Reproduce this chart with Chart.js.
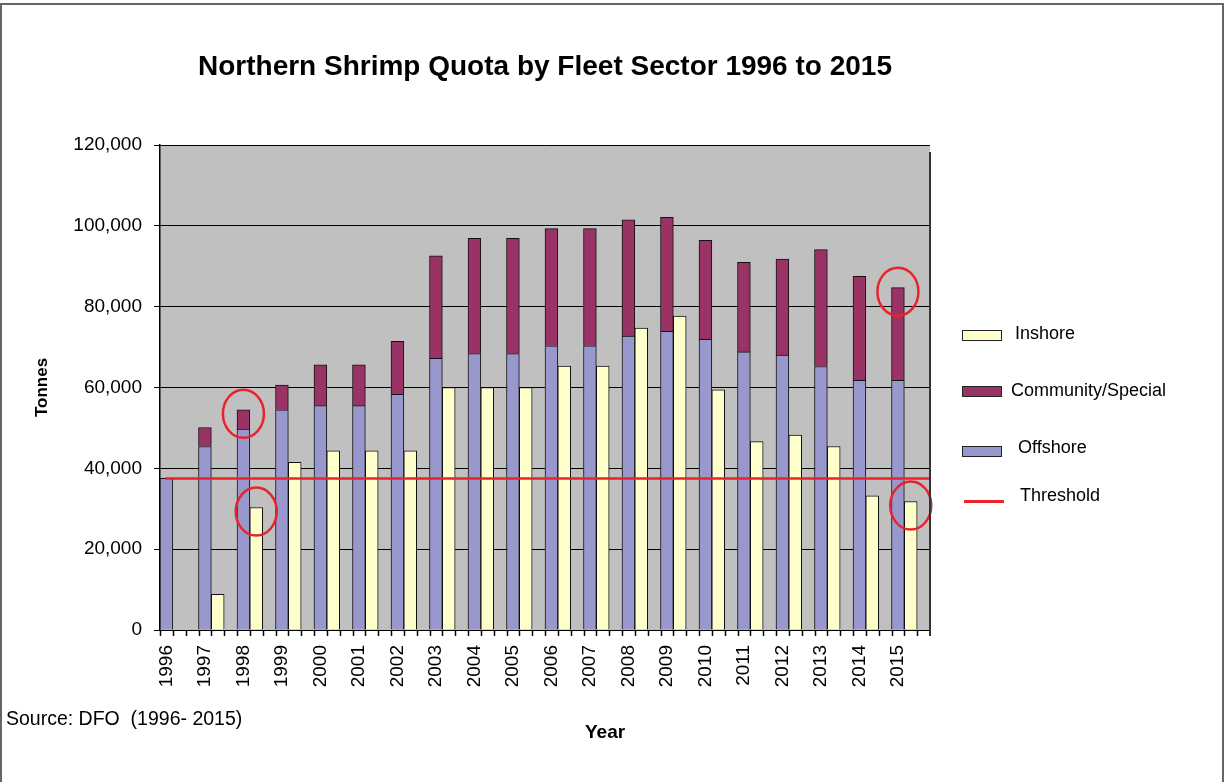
<!DOCTYPE html>
<html>
<head>
<meta charset="utf-8">
<script src="https://cdn.jsdelivr.net/npm/chart.js@4.4.1/dist/chart.umd.min.js"></script>
<style>
  body { margin: 0; background: #fff; font-family: "Liberation Sans", Arial, sans-serif; }
  #wrap { position: relative; width: 1225px; height: 782px; overflow: hidden; }
  #frame { position: absolute; left: 0; top: 3px; width: 1220px; height: 800px; border: 2px solid #666; border-bottom: none; }
  canvas { position: absolute; left: 0; top: 0; }
  .txt { position: absolute; line-height: 1; white-space: pre; color: #000; }
  #title { left: 0; width: 1090px; text-align: center; top: 52px; font-size: 28px; font-weight: bold; }
  #source { left: 6px; top: 709px; font-size: 19.5px; }
  #xtitle { left: 585px; top: 722px; font-size: 19px; font-weight: bold; }
  .box { position: absolute; left: 962px; width: 38px; height: 9px; border: 1px solid #222; }
  .lg { font-size: 18px; }
</style>
</head>
<body>
<div id="wrap">
  <div id="frame"></div>
  <canvas id="quotaChart" width="1225" height="782"></canvas>
  <div id="title" class="txt">Northern Shrimp Quota by Fleet Sector 1996 to 2015</div>
  <div id="source" class="txt">Source: DFO  (1996- 2015)</div>
  <div id="xtitle" class="txt">Year</div>

  <div class="box" style="top:330px;background:#FFFFCC"></div>
  <div class="txt lg" style="left:1015px;top:324px">Inshore</div>
  <div class="box" style="top:386px;background:#993366"></div>
  <div class="txt lg" style="left:1011px;top:381px">Community/Special</div>
  <div class="box" style="top:446px;background:#9898CC"></div>
  <div class="txt lg" style="left:1018px;top:438px">Offshore</div>
  <div style="position:absolute;left:964px;top:500px;width:40px;height:3px;background:#E8242A"></div>
  <div class="txt lg" style="left:1020px;top:486px">Threshold</div>
</div>

<script>
// valeurs (tonnes)
const years = ['1996', '1997', '1998', '1999', '2000', '2001', '2002', '2003', '2004', '2005',
               '2006', '2007', '2008', '2009', '2010', '2011', '2012', '2013', '2014', '2015'];
const offshore = [37500, 45400, 49700, 54500, 55500, 55500, 58300, 67200, 68400, 68400,
                  70300, 70300, 72700, 73900, 71900, 68800, 68000, 65200, 61800, 61800];
const community = [null, 4700, 4800, 6100, 10100, 10100, 13100, 25400, 28500, 28500,
                   29000, 29000, 28800, 28200, 24500, 22200, 23800, 28900, 25700, 22900];
const inshore = [null, 8800, 30300, 41500, 44300, 44300, 44300, 60000, 60000, 60000,
                 65300, 65300, 74700, 77700, 59400, 46600, 48200, 45400, 33200, 31800];
const thresholdValue = 37500;
const yTicks = [0, 20000, 40000, 60000, 80000, 100000, 120000];

// barres entourées en rouge (dataset, année)
const circled = [
    ['Community/Special', '1998'],
    ['Inshore', '1998'],
    ['Community/Special', '2015'],
    ['Inshore', '2015']
];

const spacer = years.map(() => null); // 3e emplacement vide de chaque année

// fond gris, ligne seuil, cercles, bord droit, petites graduations sous l'axe X
const plotDecor = {
    id: 'plotDecor',
    beforeDraw(chart) {
        const { ctx, chartArea: a } = chart;
        ctx.save();
        ctx.fillStyle = '#C0C0C0';
        ctx.fillRect(a.left, a.top, a.right - a.left, a.bottom - a.top);
        ctx.restore();
    },
    afterDatasetsDraw(chart) {
        const { ctx, chartArea: a } = chart;
        const ty = chart.scales.y.getPixelForValue(thresholdValue);
        ctx.save();
        ctx.strokeStyle = '#E8242A';
        ctx.lineWidth = 2.5;
        ctx.beginPath();
        ctx.moveTo(a.left + 5, ty);
        ctx.lineTo(a.right, ty);
        ctx.stroke();

        circled.forEach(([name, year]) => {
            const di = chart.data.datasets.findIndex(d => d.label === name);
            const bar = chart.getDatasetMeta(di).data[years.indexOf(year)];
            ctx.beginPath();
            ctx.ellipse(bar.x, bar.y + 4, 20.5, 24, 0, 0, Math.PI * 2);
            ctx.stroke();
        });
        ctx.restore();
    },
    afterDraw(chart) {
        const { ctx, chartArea: a } = chart;
        const x = chart.scales.x;
        const catW = (a.right - a.left) / years.length;
        ctx.save();
        ctx.strokeStyle = '#000';
        ctx.lineWidth = 1.5;
        for (let i = 0; i < years.length; i++) {
            const left = x.getPixelForValue(i) - catW / 2;
            for (let k = 0; k < 3; k++) {
                const px = Math.round(left + k * catW / 3) + 0.5;
                ctx.beginPath();
                ctx.moveTo(px, a.bottom);
                ctx.lineTo(px, a.bottom + 6);
                ctx.stroke();
            }
        }
        ctx.strokeStyle = '#333';
        ctx.lineWidth = 2;
        ctx.beginPath();
        ctx.moveTo(a.right, a.top + 7);
        ctx.lineTo(a.right, a.bottom + 6);
        ctx.stroke();
        ctx.restore();
    }
};

new Chart(document.getElementById('quotaChart'), {
    type: 'bar',
    data: {
        labels: years,
        datasets: [
            { label: 'Offshore', data: offshore, stack: 'a', backgroundColor: '#9898CC', borderColor: '#111', borderWidth: 1 },
            { label: 'Community/Special', data: community, stack: 'a', backgroundColor: '#993366', borderColor: '#111', borderWidth: 1 },
            { label: 'Inshore', data: inshore, stack: 'b', backgroundColor: '#FFFFCC', borderColor: '#111', borderWidth: 1 },
            { label: '', data: spacer, stack: 'c' }
        ]
    },
    options: {
        responsive: false,
        animation: false,
        devicePixelRatio: 1,
        layout: { padding: { left: 28, right: 295, top: 145, bottom: 36 } },
        datasets: { bar: { barPercentage: 1, categoryPercentage: 1 } },
        plugins: {
            legend: { display: false },
            tooltip: { enabled: false }
        },
        scales: {
            x: {
                stacked: true,
                grid: { drawOnChartArea: false, drawTicks: false },
                border: { display: true, color: '#000', width: 1 },
                ticks: {
                    color: '#000',
                    font: { family: 'Liberation Sans', size: 19 },
                    minRotation: 90,
                    maxRotation: 90,
                    padding: 15,
                    labelOffset: -12.8
                },
                afterFit(scale) { scale.height = 116; }
            },
            y: {
                stacked: true,
                min: 0,
                max: 120000,
                afterBuildTicks(scale) { scale.ticks = yTicks.map(v => ({ value: v })); },
                grid: { color: '#000', lineWidth: 1, tickLength: 6 },
                border: { display: true, color: '#000', width: 1.5 },
                ticks: {
                    color: '#000',
                    padding: 12,
                    font: { family: 'Liberation Sans', size: 19 },
                    callback: v => v.toLocaleString('en-US')
                },
                title: {
                    display: true,
                    text: 'Tonnes',
                    color: '#000',
                    font: { family: 'Liberation Sans', size: 17, weight: 'bold' },
                    padding: { top: 4, bottom: 0 }
                },
                afterFit(scale) { scale.width = 132; }
            }
        }
    },
    plugins: [plotDecor]
});
</script>
</body>
</html>
